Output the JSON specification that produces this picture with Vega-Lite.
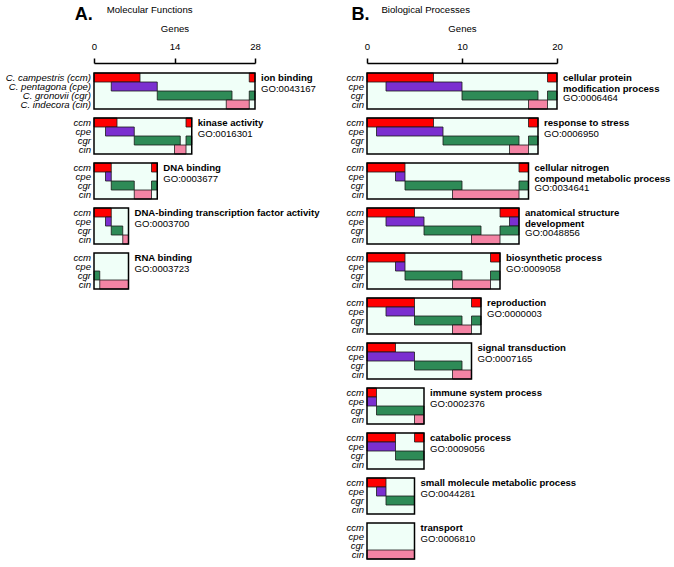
{
  "$schema": "https://vega.github.io/schema/vega-lite/v6.json",
  "background": "white",
  "padding": 5,
  "config": {
    "font": "Liberation Sans",
    "view": {"stroke": null},
    "text": {"fontSize": 9.6, "color": "black"}
  },
  "datasets": {
    "A": [
      {"k": "B", "t": "ion binding", "sp": "ccm", "s": 0, "e": 28, "name": ["ion binding"], "go": "GO:0043167"},
      {"k": "B", "t": "kinase activity", "sp": "ccm", "s": 0, "e": 17, "name": ["kinase activity"], "go": "GO:0016301"},
      {"k": "B", "t": "DNA binding", "sp": "ccm", "s": 0, "e": 11, "name": ["DNA binding"], "go": "GO:0003677"},
      {"k": "B", "t": "DNA-binding transcription factor activity", "sp": "ccm", "s": 0, "e": 6, "name": ["DNA-binding transcription factor activity"], "go": "GO:0003700"},
      {"k": "B", "t": "RNA binding", "sp": "ccm", "s": 0, "e": 6, "name": ["RNA binding"], "go": "GO:0003723"},

      {"k": "S", "t": "ion binding", "sp": "ccm", "s": 0, "e": 8},
      {"k": "S", "t": "ion binding", "sp": "ccm", "s": 27, "e": 28},
      {"k": "S", "t": "ion binding", "sp": "cpe", "s": 3, "e": 11},
      {"k": "S", "t": "ion binding", "sp": "cgr", "s": 11, "e": 24},
      {"k": "S", "t": "ion binding", "sp": "cgr", "s": 27, "e": 28},
      {"k": "S", "t": "ion binding", "sp": "cin", "s": 23, "e": 27},
      {"k": "S", "t": "kinase activity", "sp": "ccm", "s": 0, "e": 4},
      {"k": "S", "t": "kinase activity", "sp": "ccm", "s": 16, "e": 17},
      {"k": "S", "t": "kinase activity", "sp": "cpe", "s": 2, "e": 7},
      {"k": "S", "t": "kinase activity", "sp": "cgr", "s": 7, "e": 15},
      {"k": "S", "t": "kinase activity", "sp": "cgr", "s": 16, "e": 17},
      {"k": "S", "t": "kinase activity", "sp": "cin", "s": 14, "e": 16},
      {"k": "S", "t": "DNA binding", "sp": "ccm", "s": 0, "e": 3},
      {"k": "S", "t": "DNA binding", "sp": "ccm", "s": 10, "e": 11},
      {"k": "S", "t": "DNA binding", "sp": "cpe", "s": 2, "e": 3},
      {"k": "S", "t": "DNA binding", "sp": "cgr", "s": 3, "e": 7},
      {"k": "S", "t": "DNA binding", "sp": "cgr", "s": 10, "e": 11},
      {"k": "S", "t": "DNA binding", "sp": "cin", "s": 7, "e": 10},
      {"k": "S", "t": "DNA-binding transcription factor activity", "sp": "ccm", "s": 0, "e": 3},
      {"k": "S", "t": "DNA-binding transcription factor activity", "sp": "cpe", "s": 2, "e": 3},
      {"k": "S", "t": "DNA-binding transcription factor activity", "sp": "cgr", "s": 3, "e": 5},
      {"k": "S", "t": "DNA-binding transcription factor activity", "sp": "cin", "s": 5, "e": 6},
      {"k": "S", "t": "RNA binding", "sp": "cgr", "s": 0, "e": 1},
      {"k": "S", "t": "RNA binding", "sp": "cin", "s": 1, "e": 6},

      {"k": "L", "t": "ion binding", "sp": "ccm", "s": 0, "lab": "C. campestris (ccm)"},
      {"k": "L", "t": "ion binding", "sp": "cpe", "s": 0, "lab": "C. pentagona (cpe)"},
      {"k": "L", "t": "ion binding", "sp": "cgr", "s": 0, "lab": "C. gronovii (cgr)"},
      {"k": "L", "t": "ion binding", "sp": "cin", "s": 0, "lab": "C. indecora (cin)"},
      {"k": "L", "t": "kinase activity", "sp": "ccm", "s": 0, "lab": "ccm"},
      {"k": "L", "t": "kinase activity", "sp": "cpe", "s": 0, "lab": "cpe"},
      {"k": "L", "t": "kinase activity", "sp": "cgr", "s": 0, "lab": "cgr"},
      {"k": "L", "t": "kinase activity", "sp": "cin", "s": 0, "lab": "cin"},
      {"k": "L", "t": "DNA binding", "sp": "ccm", "s": 0, "lab": "ccm"},
      {"k": "L", "t": "DNA binding", "sp": "cpe", "s": 0, "lab": "cpe"},
      {"k": "L", "t": "DNA binding", "sp": "cgr", "s": 0, "lab": "cgr"},
      {"k": "L", "t": "DNA binding", "sp": "cin", "s": 0, "lab": "cin"},
      {"k": "L", "t": "DNA-binding transcription factor activity", "sp": "ccm", "s": 0, "lab": "ccm"},
      {"k": "L", "t": "DNA-binding transcription factor activity", "sp": "cpe", "s": 0, "lab": "cpe"},
      {"k": "L", "t": "DNA-binding transcription factor activity", "sp": "cgr", "s": 0, "lab": "cgr"},
      {"k": "L", "t": "DNA-binding transcription factor activity", "sp": "cin", "s": 0, "lab": "cin"},
      {"k": "L", "t": "RNA binding", "sp": "ccm", "s": 0, "lab": "ccm"},
      {"k": "L", "t": "RNA binding", "sp": "cpe", "s": 0, "lab": "cpe"},
      {"k": "L", "t": "RNA binding", "sp": "cgr", "s": 0, "lab": "cgr"},
      {"k": "L", "t": "RNA binding", "sp": "cin", "s": 0, "lab": "cin"}
    ],
    "B": [
      {"k": "B", "t": "cellular protein modification process", "sp": "ccm", "s": 0, "e": 20, "name": ["cellular protein", "modification process"], "go": "GO:0006464"},
      {"k": "B", "t": "response to stress", "sp": "ccm", "s": 0, "e": 18, "name": ["response to stress"], "go": "GO:0006950"},
      {"k": "B", "t": "cellular nitrogen compound metabolic process", "sp": "ccm", "s": 0, "e": 17, "name": ["cellular nitrogen", "compound metabolic process"], "go": "GO:0034641"},
      {"k": "B", "t": "anatomical structure development", "sp": "ccm", "s": 0, "e": 16, "name": ["anatomical structure", "development"], "go": "GO:0048856"},
      {"k": "B", "t": "biosynthetic process", "sp": "ccm", "s": 0, "e": 14, "name": ["biosynthetic process"], "go": "GO:0009058"},
      {"k": "B", "t": "reproduction", "sp": "ccm", "s": 0, "e": 12, "name": ["reproduction"], "go": "GO:0000003"},
      {"k": "B", "t": "signal transduction", "sp": "ccm", "s": 0, "e": 11, "name": ["signal transduction"], "go": "GO:0007165"},
      {"k": "B", "t": "immune system process", "sp": "ccm", "s": 0, "e": 6, "name": ["immune system process"], "go": "GO:0002376"},
      {"k": "B", "t": "catabolic process", "sp": "ccm", "s": 0, "e": 6, "name": ["catabolic process"], "go": "GO:0009056"},
      {"k": "B", "t": "small molecule metabolic process", "sp": "ccm", "s": 0, "e": 5, "name": ["small molecule metabolic process"], "go": "GO:0044281"},
      {"k": "B", "t": "transport", "sp": "ccm", "s": 0, "e": 5, "name": ["transport"], "go": "GO:0006810"},

      {"k": "S", "t": "cellular protein modification process", "sp": "ccm", "s": 0, "e": 7},
      {"k": "S", "t": "cellular protein modification process", "sp": "ccm", "s": 19, "e": 20},
      {"k": "S", "t": "cellular protein modification process", "sp": "cpe", "s": 2, "e": 10},
      {"k": "S", "t": "cellular protein modification process", "sp": "cgr", "s": 10, "e": 18},
      {"k": "S", "t": "cellular protein modification process", "sp": "cgr", "s": 19, "e": 20},
      {"k": "S", "t": "cellular protein modification process", "sp": "cin", "s": 17, "e": 19},
      {"k": "S", "t": "response to stress", "sp": "ccm", "s": 0, "e": 7},
      {"k": "S", "t": "response to stress", "sp": "ccm", "s": 17, "e": 18},
      {"k": "S", "t": "response to stress", "sp": "cpe", "s": 1, "e": 8},
      {"k": "S", "t": "response to stress", "sp": "cgr", "s": 8, "e": 16},
      {"k": "S", "t": "response to stress", "sp": "cgr", "s": 17, "e": 18},
      {"k": "S", "t": "response to stress", "sp": "cin", "s": 15, "e": 17},
      {"k": "S", "t": "cellular nitrogen compound metabolic process", "sp": "ccm", "s": 0, "e": 4},
      {"k": "S", "t": "cellular nitrogen compound metabolic process", "sp": "ccm", "s": 16, "e": 17},
      {"k": "S", "t": "cellular nitrogen compound metabolic process", "sp": "cpe", "s": 3, "e": 4},
      {"k": "S", "t": "cellular nitrogen compound metabolic process", "sp": "cgr", "s": 4, "e": 10},
      {"k": "S", "t": "cellular nitrogen compound metabolic process", "sp": "cgr", "s": 16, "e": 17},
      {"k": "S", "t": "cellular nitrogen compound metabolic process", "sp": "cin", "s": 9, "e": 16},
      {"k": "S", "t": "anatomical structure development", "sp": "ccm", "s": 0, "e": 5},
      {"k": "S", "t": "anatomical structure development", "sp": "ccm", "s": 14, "e": 16},
      {"k": "S", "t": "anatomical structure development", "sp": "cpe", "s": 2, "e": 6},
      {"k": "S", "t": "anatomical structure development", "sp": "cpe", "s": 15, "e": 16},
      {"k": "S", "t": "anatomical structure development", "sp": "cgr", "s": 6, "e": 12},
      {"k": "S", "t": "anatomical structure development", "sp": "cgr", "s": 14, "e": 16},
      {"k": "S", "t": "anatomical structure development", "sp": "cin", "s": 11, "e": 14},
      {"k": "S", "t": "biosynthetic process", "sp": "ccm", "s": 0, "e": 4},
      {"k": "S", "t": "biosynthetic process", "sp": "ccm", "s": 13, "e": 14},
      {"k": "S", "t": "biosynthetic process", "sp": "cpe", "s": 3, "e": 4},
      {"k": "S", "t": "biosynthetic process", "sp": "cgr", "s": 4, "e": 10},
      {"k": "S", "t": "biosynthetic process", "sp": "cgr", "s": 13, "e": 14},
      {"k": "S", "t": "biosynthetic process", "sp": "cin", "s": 9, "e": 13},
      {"k": "S", "t": "reproduction", "sp": "ccm", "s": 0, "e": 5},
      {"k": "S", "t": "reproduction", "sp": "ccm", "s": 11, "e": 12},
      {"k": "S", "t": "reproduction", "sp": "cpe", "s": 2, "e": 5},
      {"k": "S", "t": "reproduction", "sp": "cgr", "s": 5, "e": 10},
      {"k": "S", "t": "reproduction", "sp": "cgr", "s": 11, "e": 12},
      {"k": "S", "t": "reproduction", "sp": "cin", "s": 9, "e": 11},
      {"k": "S", "t": "signal transduction", "sp": "ccm", "s": 0, "e": 3},
      {"k": "S", "t": "signal transduction", "sp": "cpe", "s": 0, "e": 5},
      {"k": "S", "t": "signal transduction", "sp": "cgr", "s": 5, "e": 10},
      {"k": "S", "t": "signal transduction", "sp": "cin", "s": 9, "e": 11},
      {"k": "S", "t": "immune system process", "sp": "ccm", "s": 0, "e": 1},
      {"k": "S", "t": "immune system process", "sp": "cpe", "s": 0, "e": 1},
      {"k": "S", "t": "immune system process", "sp": "cgr", "s": 1, "e": 6},
      {"k": "S", "t": "immune system process", "sp": "cin", "s": 5, "e": 6},
      {"k": "S", "t": "catabolic process", "sp": "ccm", "s": 0, "e": 3},
      {"k": "S", "t": "catabolic process", "sp": "ccm", "s": 5, "e": 6},
      {"k": "S", "t": "catabolic process", "sp": "cpe", "s": 0, "e": 3},
      {"k": "S", "t": "catabolic process", "sp": "cgr", "s": 3, "e": 6},
      {"k": "S", "t": "small molecule metabolic process", "sp": "ccm", "s": 0, "e": 2},
      {"k": "S", "t": "small molecule metabolic process", "sp": "cpe", "s": 1, "e": 2},
      {"k": "S", "t": "small molecule metabolic process", "sp": "cgr", "s": 2, "e": 5},
      {"k": "S", "t": "transport", "sp": "cin", "s": 0, "e": 5},

      {"k": "L", "t": "cellular protein modification process", "sp": "ccm", "s": 0},
      {"k": "L", "t": "cellular protein modification process", "sp": "cpe", "s": 0},
      {"k": "L", "t": "cellular protein modification process", "sp": "cgr", "s": 0},
      {"k": "L", "t": "cellular protein modification process", "sp": "cin", "s": 0},
      {"k": "L", "t": "response to stress", "sp": "ccm", "s": 0},
      {"k": "L", "t": "response to stress", "sp": "cpe", "s": 0},
      {"k": "L", "t": "response to stress", "sp": "cgr", "s": 0},
      {"k": "L", "t": "response to stress", "sp": "cin", "s": 0},
      {"k": "L", "t": "cellular nitrogen compound metabolic process", "sp": "ccm", "s": 0},
      {"k": "L", "t": "cellular nitrogen compound metabolic process", "sp": "cpe", "s": 0},
      {"k": "L", "t": "cellular nitrogen compound metabolic process", "sp": "cgr", "s": 0},
      {"k": "L", "t": "cellular nitrogen compound metabolic process", "sp": "cin", "s": 0},
      {"k": "L", "t": "anatomical structure development", "sp": "ccm", "s": 0},
      {"k": "L", "t": "anatomical structure development", "sp": "cpe", "s": 0},
      {"k": "L", "t": "anatomical structure development", "sp": "cgr", "s": 0},
      {"k": "L", "t": "anatomical structure development", "sp": "cin", "s": 0},
      {"k": "L", "t": "biosynthetic process", "sp": "ccm", "s": 0},
      {"k": "L", "t": "biosynthetic process", "sp": "cpe", "s": 0},
      {"k": "L", "t": "biosynthetic process", "sp": "cgr", "s": 0},
      {"k": "L", "t": "biosynthetic process", "sp": "cin", "s": 0},
      {"k": "L", "t": "reproduction", "sp": "ccm", "s": 0},
      {"k": "L", "t": "reproduction", "sp": "cpe", "s": 0},
      {"k": "L", "t": "reproduction", "sp": "cgr", "s": 0},
      {"k": "L", "t": "reproduction", "sp": "cin", "s": 0},
      {"k": "L", "t": "signal transduction", "sp": "ccm", "s": 0},
      {"k": "L", "t": "signal transduction", "sp": "cpe", "s": 0},
      {"k": "L", "t": "signal transduction", "sp": "cgr", "s": 0},
      {"k": "L", "t": "signal transduction", "sp": "cin", "s": 0},
      {"k": "L", "t": "immune system process", "sp": "ccm", "s": 0},
      {"k": "L", "t": "immune system process", "sp": "cpe", "s": 0},
      {"k": "L", "t": "immune system process", "sp": "cgr", "s": 0},
      {"k": "L", "t": "immune system process", "sp": "cin", "s": 0},
      {"k": "L", "t": "catabolic process", "sp": "ccm", "s": 0},
      {"k": "L", "t": "catabolic process", "sp": "cpe", "s": 0},
      {"k": "L", "t": "catabolic process", "sp": "cgr", "s": 0},
      {"k": "L", "t": "catabolic process", "sp": "cin", "s": 0},
      {"k": "L", "t": "small molecule metabolic process", "sp": "ccm", "s": 0},
      {"k": "L", "t": "small molecule metabolic process", "sp": "cpe", "s": 0},
      {"k": "L", "t": "small molecule metabolic process", "sp": "cgr", "s": 0},
      {"k": "L", "t": "small molecule metabolic process", "sp": "cin", "s": 0},
      {"k": "L", "t": "transport", "sp": "ccm", "s": 0},
      {"k": "L", "t": "transport", "sp": "cpe", "s": 0},
      {"k": "L", "t": "transport", "sp": "cgr", "s": 0},
      {"k": "L", "t": "transport", "sp": "cin", "s": 0}
    ]
  },
  "spacing": 26,
  "hconcat": [
    {
      "title": {"text": "A.", "anchor": "start", "fontSize": 18, "fontWeight": "bold", "dx": 69, "offset": -19},
      "bounds": "flush",
      "vconcat": [
        {
          "data": {"name": "A"},
          "title": {"text": "Molecular Functions", "anchor": "start", "fontSize": 9.6, "fontWeight": "normal", "dx": 101, "offset": 8},
          "bounds": "flush",
          "spacing": {"row": 9},
          "facet": {
            "row": {
              "field": "t", "type": "nominal",
              "sort": ["ion binding", "kinase activity", "DNA binding", "DNA-binding transcription factor activity", "RNA binding"],
              "header": {"title": null, "labels": false}
            }
          },
          "spec": {
            "width": 161,
            "height": 36,
            "layer": [
              {
                "transform": [{"filter": "datum.k == 'B'"}],
                "mark": {"type": "rect", "fill": "#f0fff8"},
                "encoding": {
                  "x": {
                    "field": "s", "type": "quantitative",
                    "scale": {"domain": [0, 28], "nice": false, "zero": true},
                    "axis": {
                      "orient": "top", "values": [0, 14, 28], "offset": 10, "tickSize": 5,
                      "tickWidth": 1.5, "domainWidth": 1.5, "domainColor": "black", "tickColor": "black",
                      "labelFontSize": 9.6, "labelColor": "black", "labelPadding": 7, "labelFlush": false,
                      "title": "Genes", "titleFontSize": 9.6, "titleFontWeight": "normal", "titleColor": "black",
                      "titlePadding": 8, "grid": false
                    }
                  },
                  "x2": {"field": "e"}
                }
              },
              {
                "transform": [{"filter": "datum.k == 'S'"}],
                "mark": {"type": "rect", "stroke": "#1a1a1a", "strokeWidth": 0.8},
                "encoding": {
                  "x": {"field": "s", "type": "quantitative"},
                  "x2": {"field": "e"},
                  "y": {"field": "sp", "type": "nominal", "scale": {"domain": ["ccm", "cpe", "cgr", "cin"], "paddingInner": 0, "paddingOuter": 0}, "axis": null},
                  "color": {"field": "sp", "type": "nominal", "scale": {"domain": ["ccm", "cpe", "cgr", "cin"], "range": ["#ff0000", "#7b2fd0", "#2e8b57", "#f384a4"]}, "legend": null}
                }
              },
              {
                "transform": [{"filter": "datum.k == 'B'"}],
                "mark": {"type": "rect", "filled": false, "stroke": "black", "strokeWidth": 1.5},
                "encoding": {
                  "x": {"field": "s", "type": "quantitative"},
                  "x2": {"field": "e"}
                }
              },
              {
                "transform": [{"filter": "datum.k == 'L'"}],
                "mark": {"type": "text", "align": "right", "baseline": "middle", "dx": -3, "fontStyle": "italic", "fontSize": 9.6},
                "encoding": {
                  "x": {"field": "s", "type": "quantitative"},
                  "y": {"field": "sp", "type": "nominal"},
                  "text": {"field": "lab", "type": "nominal"}
                }
              },
              {
                "transform": [{"filter": "datum.k == 'B'"}],
                "mark": {"type": "text", "align": "left", "baseline": "top", "dx": 6, "dy": -5, "fontWeight": "bold", "fontSize": 9.6, "lineHeight": 11.5},
                "encoding": {
                  "x": {"field": "e", "type": "quantitative"},
                  "y": {"field": "sp", "type": "nominal"},
                  "text": {"field": "name", "type": "nominal"}
                }
              },
              {
                "transform": [
                  {"filter": "datum.k == 'B'"},
                  {"calculate": "length(datum.name) == 1 ? 'cpe' : 'cgr'", "as": "gorow"}
                ],
                "mark": {"type": "text", "align": "left", "baseline": "top", "dx": 6, "dy": -2.5, "fontSize": 9.6},
                "encoding": {
                  "x": {"field": "e", "type": "quantitative"},
                  "y": {"field": "gorow", "type": "nominal"},
                  "text": {"field": "go", "type": "nominal"}
                }
              }
            ]
          }
        }
      ]
    },
    {
      "title": {"text": "B.", "anchor": "start", "fontSize": 18, "fontWeight": "bold", "dx": 5, "offset": -19},
      "bounds": "flush",
      "vconcat": [
        {
          "data": {"name": "B"},
          "title": {"text": "Biological Processes", "anchor": "start", "fontSize": 9.6, "fontWeight": "normal", "dx": 35, "offset": 8},
          "bounds": "flush",
          "spacing": {"row": 9},
          "facet": {
            "row": {
              "field": "t", "type": "nominal",
              "sort": ["cellular protein modification process", "response to stress", "cellular nitrogen compound metabolic process", "anatomical structure development", "biosynthetic process", "reproduction", "signal transduction", "immune system process", "catabolic process", "small molecule metabolic process", "transport"],
              "header": {"title": null, "labels": false}
            }
          },
          "spec": {
            "width": 190,
            "height": 36,
            "layer": [
              {
                "transform": [{"filter": "datum.k == 'B'"}],
                "mark": {"type": "rect", "fill": "#f0fff8"},
                "encoding": {
                  "x": {
                    "field": "s", "type": "quantitative",
                    "scale": {"domain": [0, 20], "nice": false, "zero": true},
                    "axis": {
                      "orient": "top", "values": [0, 10, 20], "offset": 10, "tickSize": 5,
                      "tickWidth": 1.5, "domainWidth": 1.5, "domainColor": "black", "tickColor": "black",
                      "labelFontSize": 9.6, "labelColor": "black", "labelPadding": 7, "labelFlush": false,
                      "title": "Genes", "titleFontSize": 9.6, "titleFontWeight": "normal", "titleColor": "black",
                      "titlePadding": 8, "grid": false
                    }
                  },
                  "x2": {"field": "e"}
                }
              },
              {
                "transform": [{"filter": "datum.k == 'S'"}],
                "mark": {"type": "rect", "stroke": "#1a1a1a", "strokeWidth": 0.8},
                "encoding": {
                  "x": {"field": "s", "type": "quantitative"},
                  "x2": {"field": "e"},
                  "y": {"field": "sp", "type": "nominal", "scale": {"domain": ["ccm", "cpe", "cgr", "cin"], "paddingInner": 0, "paddingOuter": 0}, "axis": null},
                  "color": {"field": "sp", "type": "nominal", "scale": {"domain": ["ccm", "cpe", "cgr", "cin"], "range": ["#ff0000", "#7b2fd0", "#2e8b57", "#f384a4"]}, "legend": null}
                }
              },
              {
                "transform": [{"filter": "datum.k == 'B'"}],
                "mark": {"type": "rect", "filled": false, "stroke": "black", "strokeWidth": 1.5},
                "encoding": {
                  "x": {"field": "s", "type": "quantitative"},
                  "x2": {"field": "e"}
                }
              },
              {
                "transform": [{"filter": "datum.k == 'L'"}],
                "mark": {"type": "text", "align": "right", "baseline": "middle", "dx": -3, "fontStyle": "italic", "fontSize": 9.6},
                "encoding": {
                  "x": {"field": "s", "type": "quantitative"},
                  "y": {"field": "sp", "type": "nominal"},
                  "text": {"field": "sp", "type": "nominal"}
                }
              },
              {
                "transform": [{"filter": "datum.k == 'B'"}],
                "mark": {"type": "text", "align": "left", "baseline": "top", "dx": 6, "dy": -5, "fontWeight": "bold", "fontSize": 9.6, "lineHeight": 11.5},
                "encoding": {
                  "x": {"field": "e", "type": "quantitative"},
                  "y": {"field": "sp", "type": "nominal"},
                  "text": {"field": "name", "type": "nominal"}
                }
              },
              {
                "transform": [
                  {"filter": "datum.k == 'B'"},
                  {"calculate": "length(datum.name) == 1 ? 'cpe' : 'cgr'", "as": "gorow"}
                ],
                "mark": {"type": "text", "align": "left", "baseline": "top", "dx": 6, "dy": -2.5, "fontSize": 9.6},
                "encoding": {
                  "x": {"field": "e", "type": "quantitative"},
                  "y": {"field": "gorow", "type": "nominal"},
                  "text": {"field": "go", "type": "nominal"}
                }
              }
            ]
          }
        }
      ]
    }
  ]
}
